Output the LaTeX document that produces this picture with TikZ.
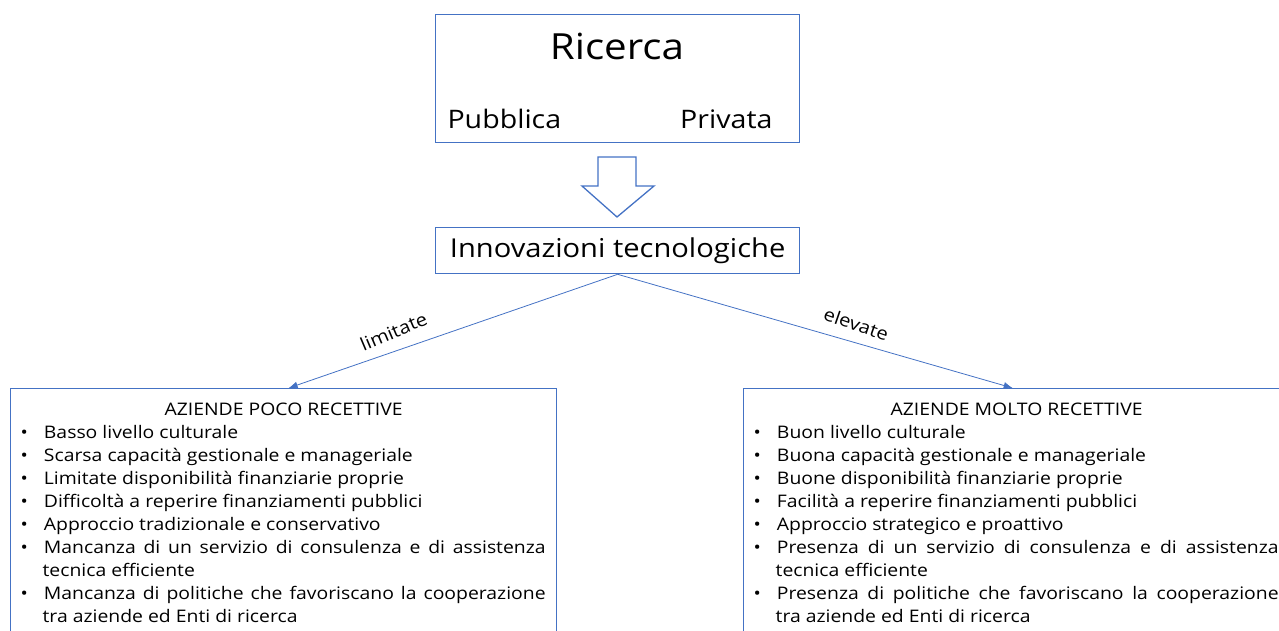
\documentclass[tikz,border=0pt]{standalone}
\usepackage{fontspec}
\setmainfont[FakeStretch=1.12]{Open Sans}
\usetikzlibrary{arrows.meta,calc}
\definecolor{bl}{HTML}{4472C4}
\tikzset{
  box/.style={draw=bl, line width=1.3pt, inner sep=0pt},
  conn/.style={draw=bl, line width=0.8pt, -{Latex[length=9pt,width=7pt]}},
  lbl/.style={font=\fontsize{18}{20}\selectfont, inner sep=2pt},
  listbox/.style={box, anchor=north west, text width=546pt, align=justify, font=\fontsize{17.3}{23}\selectfont}
}
\newenvironment{bulletlist}{\list{\textbullet}{\leftmargin=32pt\rightmargin=11pt\labelwidth=6pt\labelsep=16pt\itemsep=0pt\parsep=0pt\topsep=0pt\partopsep=0pt}}{\endlist}
\begin{document}
\begin{tikzpicture}[x=1pt,y=-1pt]
\useasboundingbox (0,0) rectangle (1279,630);
\clip (0,0) rectangle (1279,630);
\node[box, anchor=north west, minimum width=364pt, minimum height=128pt] (ric) at (435,14) {};
\node[font=\fontsize{36}{40}\selectfont] (ricT) at (617,46) {Ricerca};
\node[font=\fontsize{25.5}{30}\selectfont, anchor=west] (pub) at (444,119) {Pubblica};
\node[font=\fontsize{25.5}{30}\selectfont, anchor=east] (pri) at (776,119) {Privata};
\draw[draw=bl, line width=1.3pt, line join=miter] (598,157) -- (636,157) -- (636,186) -- (654,186) -- (617,217) -- (582,186) -- (598,186) -- cycle;
\node[box, anchor=north west, minimum width=364pt, minimum height=46pt, font=\fontsize{26}{30}\selectfont] (inn) at (435,227) {Innovazioni tecnologiche};
\node[listbox] (lbox) at (10,388) {%
{\centering\rule{0pt}{27pt}AZIENDE POCO RECETTIVE\par}
\begin{bulletlist}
\item Basso livello culturale
\item Scarsa capacità gestionale e manageriale
\item Limitate disponibilità finanziarie proprie
\item Difficoltà a reperire finanziamenti pubblici
\item Approccio tradizionale e conservativo
\item Mancanza di un servizio di consulenza e di assistenza\linebreak tecnica efficiente
\item Mancanza di politiche che favoriscano la cooperazione\linebreak tra aziende ed Enti di ricerca
\end{bulletlist}\par\rule{0pt}{40pt}};
\node[listbox] (rbox) at (743,388) {%
{\centering\rule{0pt}{27pt}AZIENDE MOLTO RECETTIVE\par}
\begin{bulletlist}
\item Buon livello culturale
\item Buona capacità gestionale e manageriale
\item Buone disponibilità finanziarie proprie
\item Facilità a reperire finanziamenti pubblici
\item Approccio strategico e proattivo
\item Presenza di un servizio di consulenza e di assistenza\linebreak tecnica efficiente
\item Presenza di politiche che favoriscano la cooperazione\linebreak tra aziende ed Enti di ricerca
\end{bulletlist}\par\rule{0pt}{40pt}};
\draw[conn] (inn.south) -- node[lbl, sloped, above=10pt, pos=0.66, rotate=4] {limitate} ($(lbox.north)+(5,0)$);
\draw[conn] (inn.south) -- node[lbl, sloped, above=9pt, pos=0.59, rotate=-3] {elevate} ($(rbox.north)+(-4,0)$);
\end{tikzpicture}
\end{document}
